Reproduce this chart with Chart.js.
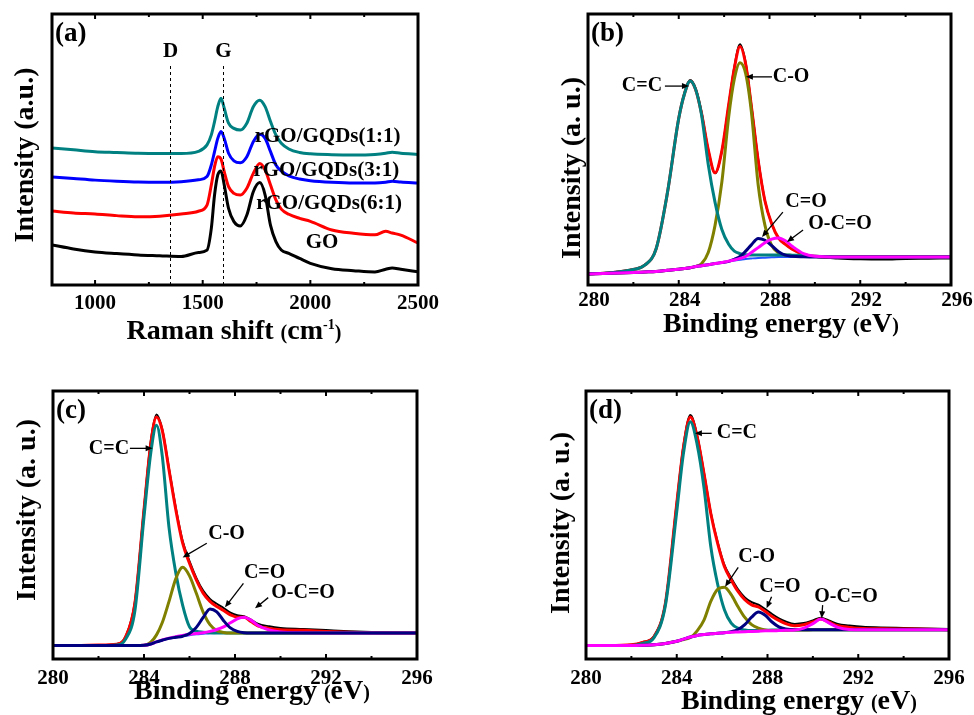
<!DOCTYPE html>
<html>
<head>
<meta charset="utf-8">
<script src="https://cdn.jsdelivr.net/npm/chart.js@4.4.1/dist/chart.umd.min.js"></script>
<style>
  body { margin: 0; background: #fff; }
  #page { position: relative; width: 974px; height: 715px; overflow: hidden;
          font-family: "Liberation Serif", "Times New Roman", serif; font-weight: bold; color: #000; }
  canvas { position: absolute; }
  .t { position: absolute; white-space: nowrap; font-size: 28px; line-height: 1; transform: translate(-50%, -50%); }
  .v { transform: translate(-50%, -50%) rotate(-90deg); }
  .p { font-size: 20px; }
  sup { font-size: 14px; vertical-align: 10px; line-height: 0; }
</style>
</head>
<body>
<div id="page">
  <canvas id="ca" width="487" height="320" style="left:0;top:0"></canvas>
  <canvas id="cb" width="487" height="320" style="left:487px;top:0"></canvas>
  <canvas id="cc" width="487" height="330" style="left:0;top:370px"></canvas>
  <canvas id="cd" width="487" height="330" style="left:487px;top:370px"></canvas>

  <div class="t" style="left:234px;top:330px">Raman shift <span class="p">(</span>cm<sup>-1</sup><span class="p">)</span></div>
  <div class="t v" style="left:24px;top:155px">Intensity (a.u.)</div>
  <div class="t" style="left:781px;top:323px">Binding energy <span class="p">(</span>eV<span class="p">)</span></div>
  <div class="t v" style="left:571px;top:168px">Intensity (a. u.)</div>
  <div class="t" style="left:252px;top:690px">Binding energy <span class="p">(</span>eV<span class="p">)</span></div>
  <div class="t v" style="left:26px;top:510px">Intensity (a. u.)</div>
  <div class="t" style="left:799px;top:700px">Binding energy <span class="p">(</span>eV<span class="p">)</span></div>
  <div class="t v" style="left:560px;top:523px">Intensity (a. u.)</div>
</div>
<script>
// ---- (a) Raman spectra ----
const ramanX = [800, 900, 1000, 1100, 1200, 1300, 1400, 1480, 1520, 1540, 1555, 1570, 1585, 1600, 1620, 1645, 1675,
  1705, 1735, 1765, 1790, 1815, 1840, 1865, 1900, 1950, 2000, 2100, 2200, 2300, 2350, 2380, 2420, 2500];
const gqds11 = [50.6, 49.9, 49.2, 48.9, 48.6, 48.5, 48.5, 49.3, 51.7, 55.4, 60.3, 65.8, 68.9, 65.2, 59.7, 57.8, 57.2,
  59.7, 65.8, 68.2, 65.8, 60.3, 55.4, 52.3, 50.2, 48.9, 48.4, 48.1, 48.0, 48.2, 48.6, 49.0, 48.6, 48.2];
const gqds31 = [39.9, 39.3, 38.7, 38.3, 38.0, 37.9, 38.1, 38.8, 40.0, 44.3, 49.2, 54.1, 56.6, 54.1, 48.6, 45.8, 45.1,
  47.3, 52.9, 55.6, 54.1, 49.2, 44.3, 42.1, 40.3, 39.1, 38.5, 37.9, 37.6, 37.6, 37.9, 38.3, 38.0, 37.6];
const gqds61 = [27.3, 26.6, 26.2, 25.6, 25.2, 25.4, 26.2, 27.2, 29.5, 36.9, 43.7, 47.3, 46.5, 41.8, 36.3, 33.8, 33.2,
  35.7, 41.2, 44.8, 42.4, 36.9, 31.4, 28.0, 26.1, 24.6, 23.5, 20.3, 19.1, 18.5, 19.8, 19.2, 18.4, 15.5];
const goRaman = [14.8, 13.3, 12.2, 11.6, 11.1, 10.8, 10.5, 12.0, 12.9, 20.9, 33.2, 40.6, 42.1, 36.9, 28.3, 23.4, 21.8,
  25.8, 34.4, 37.8, 33.2, 22.0, 16.0, 12.9, 11.7, 9.8, 8.0, 6.0, 5.3, 4.8, 5.8, 6.3, 5.8, 4.9];
const ramanTicks = [1000, 1500, 2000, 2500];
const ramanMinor = [1250, 1750, 2250];

// ---- (b) XPS C1s, GO ----
const eB = [280, 281, 282, 282.5, 283, 283.5, 284, 284.25, 284.5, 284.75, 285, 285.3, 285.6, 285.9, 286.2, 286.45,
  286.7, 286.95, 287.2, 287.5, 287.8, 288.1, 288.4, 288.7, 289, 289.5, 290, 291, 292, 293, 294, 295, 296];
const rawB = [4.2, 4.6, 5.8, 7.4, 13.4, 34, 61.5, 70.8, 75.6, 72.5, 64, 50, 41.2, 49.5, 66.5, 80.5,
  88.8, 82, 66.5, 46.5, 31, 22.5, 17.3, 15, 13.2, 11.2, 10.4, 9.8, 9.5, 9.4, 9.6, 9.7, 9.8];
const fitB = [4.1, 4.5, 5.7, 7.3, 13.3, 34, 61.5, 70.5, 75.3, 72, 63.5, 50, 41.4, 49.5, 66.5, 80,
  88.0, 81.5, 66, 46, 31, 22.5, 17.3, 15, 13.2, 11.3, 10.6, 10.3, 10.3, 10.3, 10.3, 10.3, 10.3];
const ccB = [4.1, 4.5, 5.7, 7.3, 13.3, 34, 61.5, 70.5, 75.3, 72, 63, 44.5, 30.5, 20.5, 15, 12.5,
  11.6, 11.2, 11.1, 11.1, 11.1, 11.1, 11.1, 11.1, 11.0, 10.9, 10.6, 10.3, 10.3, 10.3, 10.3, 10.3, 10.3];
const coB = [4.1, 4.3, 4.6, 4.8, 5.0, 5.4, 5.8, 6.1, 6.4, 6.9, 7.8, 12, 22, 38, 62, 76,
  82, 78, 64, 37, 22, 14.5, 11.8, 11.1, 10.9, 10.7, 10.5, 10.3, 10.3, 10.3, 10.3, 10.3, 10.3];
const c_oB = [4.1, 4.3, 4.6, 4.8, 5.0, 5.4, 5.8, 6.1, 6.4, 6.8, 7.1, 7.5, 7.9, 8.3, 8.7, 9.5,
  10.5, 12.5, 14.8, 17.2, 16.5, 14.5, 12.3, 11.0, 10.6, 10.4, 10.3, 10.3, 10.3, 10.3, 10.3, 10.3, 10.3];
const occB = [4.1, 4.3, 4.6, 4.8, 5.0, 5.4, 5.8, 6.1, 6.4, 6.8, 7.1, 7.5, 7.9, 8.3, 8.8, 9.2,
  9.8, 10.5, 12.0, 13.8, 15.6, 16.9, 17.3, 16.3, 14.3, 11.6, 10.6, 10.3, 10.3, 10.3, 10.3, 10.3, 10.3];
const bgB = [4.1, 4.3, 4.6, 4.8, 5.0, 5.4, 5.8, 6.1, 6.4, 6.8, 7.1, 7.5, 7.9, 8.3, 8.7, 9.0,
  9.3, 9.6, 9.8, 10.0, 10.1, 10.2, 10.3, 10.3, 10.3, 10.3, 10.3, 10.3, 10.3, 10.3, 10.3, 10.3, 10.3];

// ---- (c) XPS C1s ----
const eC = [280, 281, 282, 282.8, 283.2, 283.6, 284.0, 284.3, 284.55, 284.8, 285.1, 285.4, 285.7, 286.0, 286.3, 286.6,
  286.9, 287.2, 287.5, 287.8, 288.1, 288.4, 288.7, 289.0, 289.5, 290, 291, 292, 293, 294, 295, 296];
const rawC = [5.0, 5.0, 5.2, 5.6, 8.6, 21.5, 56.5, 81.5, 91.2, 85.8, 71.0, 56.3, 44.0, 36.5, 30.3, 25.5,
  22.4, 20.6, 19.0, 17.3, 16.3, 16.0, 14.7, 13.2, 12.2, 11.6, 11.2, 10.8, 10.4, 10.1, 9.9, 9.8];
const fitC = [5.0, 5.0, 5.2, 5.5, 8.4, 20.8, 55.6, 80.4, 90.3, 85.4, 70.5, 55.6, 43.2, 35.7, 29.5, 24.6,
  21.5, 19.6, 18.1, 16.5, 15.6, 15.6, 14.0, 12.4, 11.4, 10.9, 10.7, 10.3, 10.0, 9.8, 9.7, 9.7];
const ccC = [5.0, 5.0, 5.0, 5.2, 7.5, 18.0, 53.0, 77.0, 87.2, 76.0, 49.0, 32.0, 20.0, 12.0, 10.4, 10.0,
  9.8, 9.7, 9.7, 9.7, 9.7, 9.7, 9.7, 9.7, 9.7, 9.7, 9.7, 9.7, 9.7, 9.7, 9.7, 9.7];
const coC = [5.0, 5.0, 5.0, 5.0, 5.0, 5.0, 5.1, 6.3, 9.0, 13.5, 21.5, 30.0, 34.2, 31.0, 24.5, 17.5,
  12.8, 10.6, 9.9, 9.7, 9.7, 9.7, 9.7, 9.7, 9.7, 9.7, 9.7, 9.7, 9.7, 9.7, 9.7, 9.7];
const c_oC = [5.0, 5.0, 5.0, 5.0, 5.0, 5.0, 5.1, 5.6, 6.4, 7.0, 7.7, 8.1, 8.5, 9.5, 11.8, 15.5,
  18.7, 17.6, 14.3, 11.6, 10.3, 9.8, 9.7, 9.7, 9.7, 9.7, 9.7, 9.7, 9.7, 9.7, 9.7, 9.7];
const occC = [5.0, 5.0, 5.0, 5.0, 5.0, 5.0, 5.1, 5.6, 6.4, 7.1, 7.8, 8.3, 8.8, 9.2, 9.5, 9.8,
  10.3, 11.0, 12.0, 13.5, 15.0, 15.6, 14.5, 12.6, 10.8, 10.1, 9.8, 9.7, 9.7, 9.7, 9.7, 9.7];
const bgC = [5.0, 5.0, 5.0, 5.0, 5.0, 5.0, 5.1, 5.6, 6.4, 7.0, 7.7, 8.1, 8.5, 8.9, 9.2, 9.4,
  9.6, 9.7, 9.7, 9.7, 9.7, 9.7, 9.7, 9.7, 9.7, 9.7, 9.7, 9.7, 9.7, 9.7, 9.7, 9.7];

// ---- (d) XPS C1s ----
const eD = [280, 281, 282, 282.5, 283, 283.5, 284, 284.3, 284.6, 284.9, 285.2, 285.5, 285.8, 286.1, 286.4, 286.7, 287,
  287.3, 287.6, 287.9, 288.2, 288.5, 288.8, 289.2, 289.6, 290, 290.35, 290.7, 291.1, 291.6, 292.2, 293, 294, 295, 296];
const rawD = [5.0, 5.0, 5.3, 6.3, 8.6, 21.2, 58.5, 80.0, 91.0, 83.5, 69.6, 54.7, 43.7, 35.1, 30.2, 26.0, 23.0,
  21.2, 20.3, 18.6, 16.8, 15.2, 14.0, 13.1, 13.4, 14.4, 15.4, 14.4, 13.1, 12.5, 12.0, 11.8, 11.6, 11.4, 11.2];
const fitD = [5.0, 5.0, 5.3, 6.2, 8.4, 20.8, 58.0, 79.2, 90.3, 82.9, 69.2, 54.3, 43.2, 34.5, 29.5, 25.2, 22.1,
  20.2, 19.4, 17.7, 15.9, 14.4, 13.2, 12.4, 12.8, 13.8, 14.9, 13.8, 12.4, 11.8, 11.4, 11.3, 11.2, 11.1, 10.9];
const ccD = [5.0, 5.0, 5.0, 5.8, 8.0, 20.0, 55.0, 77.0, 88.5, 80.0, 64.0, 42.0, 28.0, 18.4, 13.4, 11.5, 10.8,
  10.6, 10.6, 10.7, 10.8, 10.8, 10.9, 10.9, 10.9, 10.9, 10.9, 10.9, 10.9, 10.9, 10.9, 10.9, 10.9, 10.9, 10.9];
const coD = [5.0, 5.0, 5.0, 5.1, 5.3, 5.8, 6.6, 7.3, 8.0, 10.5, 14.5, 21.5, 26.0, 26.8, 24.0, 19.5, 15.5,
  12.8, 11.5, 10.8, 10.6, 10.6, 10.7, 10.8, 10.8, 10.9, 10.9, 10.9, 10.9, 10.9, 10.9, 10.9, 10.9, 10.9, 10.9];
const c_oD = [5.0, 5.0, 5.0, 5.1, 5.3, 5.8, 6.6, 7.4, 8.2, 8.8, 9.1, 9.4, 9.6, 9.8, 10.2, 11.0, 12.8,
  15.6, 17.5, 16.3, 13.8, 12.0, 11.2, 10.9, 10.9, 10.9, 10.9, 10.9, 10.9, 10.9, 10.9, 10.9, 10.9, 10.9, 10.9];
const occD = [5.0, 5.0, 5.0, 5.1, 5.3, 5.8, 6.6, 7.4, 8.2, 8.8, 9.1, 9.4, 9.6, 9.8, 10.0, 10.1, 10.2,
  10.3, 10.4, 10.5, 10.5, 10.6, 10.7, 10.8, 11.5, 13.2, 14.9, 13.5, 11.8, 11.0, 10.9, 10.9, 10.9, 10.9, 10.9];
const bgD = [5.0, 5.0, 5.0, 5.1, 5.3, 5.8, 6.6, 7.4, 8.2, 8.8, 9.1, 9.4, 9.6, 9.8, 10.0, 10.1, 10.2,
  10.3, 10.4, 10.5, 10.5, 10.6, 10.7, 10.8, 10.8, 10.8, 10.8, 10.8, 10.8, 10.9, 10.9, 10.9, 10.9, 10.9, 10.9];

const xpsTicks = [280, 284, 288, 292, 296];
const xpsMinor = [282, 286, 290, 294];

// annotations, in data units: [x, y, text] and arrows [x0, y0, x1, y1]
const notesA = [[1351, 86.1, 'D'], [1596, 86.1, 'G'], [2080, 54.6, 'rGO/GQDs(1:1)'],
  [2074, 42.4, 'rGO/GQDs(3:1)'], [2087, 29.9, 'rGO/GQDs(6:1)'], [2054, 15.5, 'GO']];
const dashesA = [[1350, 0, 81.8], [1593, 0, 81.8]];
const notesB = [[282.38, 73.4, 'C=C'], [288.95, 76.8, 'C-O'], [289.61, 30.6, 'C=O'], [291.11, 22.5, 'O-C=O']];
const arrowsB = [[283.39, 73.4, 284.45, 73.4], [288.11, 76.8, 286.96, 76.8], [288.59, 26.9, 287.67, 17.7], [289.48, 20.3, 288.77, 15.9]];
const notesC = [[282.46, 78.4, 'C=C'], [287.63, 46.6, 'C-O'], [289.3, 32.1, 'C=O'], [290.99, 24.6, 'O-C=O']];
const arrowsC = [[283.38, 78.6, 284.38, 78.6], [286.76, 43.2, 285.7, 37.9], [288.37, 28.2, 287.56, 19.3], [289.46, 22.9, 288.88, 18.9]];
const notesD = [[286.65, 84.3, 'C=C'], [287.52, 38.1, 'C-O'], [288.55, 26.9, 'C=O'], [291.46, 23.1, 'O-C=O']];
const arrowsD = [[285.54, 84.2, 284.8, 84.2], [286.71, 34.2, 286.13, 27.0], [288.18, 23.2, 287.96, 18.9], [290.43, 20.1, 290.39, 15.2]];

const FONT = '"Liberation Serif", "Times New Roman", serif';

// frame, inward ticks, panel tag, notes and arrows
const deco = {
  id: 'deco',
  afterDatasetsDraw(chart, args, o) {
    const { ctx, chartArea: a } = chart;
    const X = v => chart.scales.x.getPixelForValue(v);
    const Y = v => chart.scales.y.getPixelForValue(v);
    ctx.save();
    ctx.strokeStyle = '#000';
    ctx.fillStyle = '#000';
    ctx.lineWidth = 1;
    ctx.setLineDash([3, 3]);
    (o.dashes || []).forEach(([x, y0, y1]) => {
      ctx.beginPath(); ctx.moveTo(Math.round(X(x)) + 0.5, Y(y0)); ctx.lineTo(Math.round(X(x)) + 0.5, Y(y1)); ctx.stroke();
    });
    ctx.setLineDash([]);
    (o.arrows || []).forEach(([x0, y0, x1, y1]) => {
      const ax = X(x0), ay = Y(y0), bx = X(x1), by = Y(y1);
      const c = Math.cos(Math.atan2(by - ay, bx - ax)), s = Math.sin(Math.atan2(by - ay, bx - ax));
      ctx.lineWidth = 1.3;
      ctx.beginPath(); ctx.moveTo(ax, ay); ctx.lineTo(bx - 5 * c, by - 5 * s); ctx.stroke();
      ctx.beginPath();
      ctx.moveTo(bx, by);
      ctx.lineTo(bx - 7 * c + 3 * s, by - 7 * s - 3 * c);
      ctx.lineTo(bx - 7 * c - 3 * s, by - 7 * s + 3 * c);
      ctx.closePath(); ctx.fill();
    });
    ctx.textAlign = 'center';
    ctx.textBaseline = 'middle';
    ctx.font = 'bold ' + (o.noteSize || 20) + 'px ' + FONT;
    (o.notes || []).forEach(([x, y, t]) => ctx.fillText(t, X(x), Y(y)));
    ctx.textAlign = 'left';
    ctx.font = 'bold 27px ' + FONT;
    ctx.fillText(o.tag, a.left + 3, a.top + 20);
    const tick = (v, len) => {
      const px = X(v);
      ctx.beginPath();
      ctx.moveTo(px, a.bottom); ctx.lineTo(px, a.bottom - len);
      ctx.moveTo(px, a.top); ctx.lineTo(px, a.top + len);
      ctx.stroke();
    };
    ctx.lineWidth = 2;
    o.major.forEach(v => tick(v, 5));
    o.minor.forEach(v => tick(v, 3));
    ctx.lineWidth = 3;
    ctx.strokeRect(a.left, a.top, a.right - a.left, a.bottom - a.top);
    ctx.restore();
  }
};

function curve(xs, ys, color, width) {
  return {
    data: xs.map((x, i) => ({ x, y: ys[i] })),
    borderColor: color, borderWidth: width, pointRadius: 0,
    cubicInterpolationMode: 'monotone', fill: false
  };
}

function panel(id, cfg) {
  new Chart(document.getElementById(id), {
    type: 'line',
    data: { datasets: cfg.datasets },
    plugins: [deco],
    options: {
      responsive: false,
      animation: false,
      layout: { padding: cfg.pad },
      plugins: {
        legend: { display: false },
        tooltip: { enabled: false },
        deco: cfg.deco
      },
      scales: {
        x: {
          type: 'linear', min: cfg.min, max: cfg.max,
          grid: { display: false, drawTicks: false },
          border: { display: false },
          ticks: {
            color: '#000', padding: cfg.tickPad, labelOffset: cfg.labelOffset || 0,
            font: { family: FONT, size: 21, weight: 'bold' },
            maxRotation: 0, callback: v => String(v)
          },
          afterBuildTicks: s => { s.ticks = cfg.major.map(v => ({ value: v })); },
          afterFit: s => { s.height = cfg.axisH; }
        },
        y: { display: false, min: 0, max: 100 }
      }
    }
  });
}

const TEAL = '#008080', BLUE = '#0000ff', RED = '#ff0000', OLIVE = '#808000', NAVY = '#000080', MAG = '#ff00ff', BG = '#2255ff';

panel('ca', {
  min: 800, max: 2500, major: ramanTicks, tickPad: 6, axisH: 35,
  pad: { left: 52, top: 14, right: 69, bottom: 0 },
  datasets: [
    curve(ramanX, gqds11, TEAL, 3),
    curve(ramanX, gqds31, BLUE, 3),
    curve(ramanX, gqds61, RED, 3),
    curve(ramanX, goRaman, '#000', 3)
  ],
  deco: { tag: '(a)', notes: notesA, dashes: dashesA, noteSize: 21, major: ramanTicks, minor: ramanMinor }
});

panel('cb', {
  min: 280, max: 296, major: xpsTicks, tickPad: 3, axisH: 35, labelOffset: 6,
  pad: { left: 101, top: 14, right: 23, bottom: 0 },
  datasets: [
    curve(eB, occB, MAG, 3),
    curve(eB, c_oB, NAVY, 3),
    curve(eB, ccB, TEAL, 3),
    curve(eB, coB, OLIVE, 3),
    curve(eB, bgB, BG, 2),
    curve(eB, fitB, RED, 3),
    curve(eB, rawB, '#000', 2)
  ],
  deco: { tag: '(b)', notes: notesB, arrows: arrowsB, major: xpsTicks, minor: xpsMinor }
});

panel('cc', {
  min: 280, max: 296, major: xpsTicks, tickPad: 7, axisH: 41,
  pad: { left: 53, top: 21, right: 70, bottom: 0 },
  datasets: [
    curve(eC, c_oC, NAVY, 3),
    curve(eC, occC, MAG, 3),
    curve(eC, coC, OLIVE, 3),
    curve(eC, ccC, TEAL, 3),
    curve(eC, bgC, BG, 2),
    curve(eC, fitC, RED, 3),
    curve(eC, rawC, '#000', 2)
  ],
  deco: { tag: '(c)', notes: notesC, arrows: arrowsC, major: xpsTicks, minor: xpsMinor }
});

panel('cd', {
  min: 280, max: 296, major: xpsTicks, tickPad: 7, axisH: 41,
  pad: { left: 99, top: 21, right: 25, bottom: 0 },
  datasets: [
    curve(eD, occD, MAG, 3),
    curve(eD, c_oD, NAVY, 3),
    curve(eD, coD, OLIVE, 3),
    curve(eD, ccD, TEAL, 3),
    curve(eD, bgD, BG, 2),
    curve(eD, fitD, RED, 3),
    curve(eD, rawD, '#000', 2)
  ],
  deco: { tag: '(d)', notes: notesD, arrows: arrowsD, major: xpsTicks, minor: xpsMinor }
});
</script>
</body>
</html>
